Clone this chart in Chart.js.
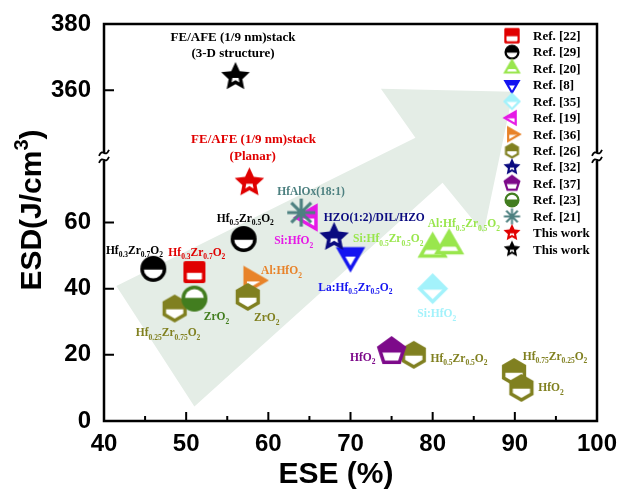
<!DOCTYPE html>
<html>
<head>
<meta charset="utf-8">
<script src="https://cdn.jsdelivr.net/npm/chart.js@4.4.1/dist/chart.umd.min.js"></script>
<style>
  html, body { margin: 0; padding: 0; background: #fff; }
  #wrap { width: 620px; height: 492px; }
</style>
</head>
<body>
<div id="wrap"><canvas id="chart"></canvas></div>
<script>
// Dades llegides de la figura: ESE (%) i ESD (J/cm3), una entrada per fila de llegenda
const seriesLabels = ['Ref. [22]', 'Ref. [29]', 'Ref. [20]', 'Ref. [8]', 'Ref. [35]', 'Ref. [19]', 'Ref. [36]',
                      'Ref. [26]', 'Ref. [32]', 'Ref. [37]', 'Ref. [23]', 'Ref. [21]', 'This work', 'This work'];
const eseValues = [[51], [46, 57], [80, 82], [70], [80], [65], [58], [48.6, 57.5, 77.7, 89.9, 90.8],
                   [68], [75], [51], [64], [57.7], [56]];
const esdValues = [[45], [46, 55], [52, 53], [50], [40], [61.5], [42.5], [34, 37.5, 20, 14.8, 10],
                   [55.5], [21], [37], [63], [72], [364]];

const xTicks = [40, 50, 60, 70, 80, 90, 100];
const yTicks = [0, 20, 40, 60, 360, 380];

// estil dels marcadors (separat de les dades)
const seriesColors = ['#e00000', '#000000', '#99e64d', '#1414f0', '#a3f2fb', '#e619e6', '#e8832a',
                      '#808020', '#0a0a80', '#7d0a8a', '#427d1f', '#4d8080', '#e00000', '#000000'];
const seriesShapes = ['square', 'circle', 'triUp', 'triDown', 'diamond', 'triLeft', 'triRight',
                      'hexagon', 'star', 'pentagon', 'circle', 'asterisk', 'star', 'star'];
const seriesRadius = [11, 13, 17.5, 17, 15.5, 16.5, 17, 14, 15.5, 15.5, 13, 14, 15.5, 15];
const seriesHollow = ['bottom', 'bottom', 'bottom', 'bottom', 'bottom', 'bottom', 'bottom',
                      'bottom', 'bottom', 'bottom', 'top', 'none', 'bottom', 'bottom'];

// eix Y trencat: de 80 a 340 no es dibuixa
const BREAK_LOW = 80, BREAK_HIGH = 340;
function toAxis(v) { return v >= BREAK_HIGH ? v - (BREAK_HIGH - BREAK_LOW) : v; }

// fletxa de fons (unitats de l'eix)
const arrowShape = [[41.5, 40.8], [51.0, 4.4], [81.2, 72.0], [86.2, 56.8], [89.8, 99.5],
                    [73.7, 100.4], [77.9, 85.6]];

// etiquetes dels punts (unitats de l'eix); _{} = subíndex
const pointNotes = [
  { text: 'FE/AFE (1/9 nm)stack', x: 55.7, y: 116.2, color: '#000000', size: 13 },
  { text: '(3-D structure)', x: 55.7, y: 111.3, color: '#000000', size: 13 },
  { text: 'FE/AFE (1/9 nm)stack', x: 58.2, y: 85.3, color: '#e00000', size: 13 },
  { text: '(Planar)', x: 58.1, y: 80.2, color: '#e00000', size: 13 },
  { text: 'HfAlOx(18:1)', x: 65.2, y: 69.5, color: '#4d8080' },
  { text: 'Hf_{0.5}Zr_{0.5}O_{2}', x: 57.2, y: 61.4, color: '#000000' },
  { text: 'Hf_{0.3}Zr_{0.7}O_{2}', x: 43.7, y: 51.7, color: '#000000' },
  { text: 'Hf_{0.3}Zr_{0.7}O_{2}', x: 51.3, y: 51.1, color: '#e00000' },
  { text: 'Si:HfO_{2}', x: 63.1, y: 54.7, color: '#e619e6' },
  { text: 'Al:HfO_{2}', x: 61.6, y: 45.6, color: '#e8832a' },
  { text: 'ZrO_{2}', x: 53.7, y: 31.7, color: '#427d1f' },
  { text: 'ZrO_{2}', x: 59.8, y: 31.4, color: '#808020' },
  { text: 'Hf_{0.25}Zr_{0.75}O_{2}', x: 47.8, y: 26.8, color: '#808020' },
  { text: 'HZO(1:2)/DIL/HZO', x: 72.9, y: 61.7, color: '#0a0a80' },
  { text: 'Si:Hf_{0.5}Zr_{0.5}O_{2}', x: 74.6, y: 55.3, color: '#99e64d' },
  { text: 'Al:Hf_{0.5}Zr_{0.5}O_{2}', x: 83.8, y: 59.8, color: '#99e64d' },
  { text: 'La:Hf_{0.5}Zr_{0.5}O_{2}', x: 70.6, y: 40.5, color: '#1414f0' },
  { text: 'Si:HfO_{2}', x: 80.5, y: 32.6, color: '#a3f2fb' },
  { text: 'HfO_{2}', x: 71.5, y: 19.5, color: '#7d0a8a' },
  { text: 'Hf_{0.5}Zr_{0.5}O_{2}', x: 83.2, y: 19.2, color: '#808020' },
  { text: 'Hf_{0.75}Zr_{0.25}O_{2}', x: 94.9, y: 19.8, color: '#808020' },
  { text: 'HfO_{2}', x: 94.4, y: 10.2, color: '#808020' }
];

const SERIF = '"Liberation Serif", "Times New Roman", serif';
const SANS = '"Liberation Sans", Arial, sans-serif';

/**
 * Camí de la forma centrat a l'origen
 */
function shapePath(g, shape, r) {
  g.beginPath();
  const poly = (n, rot, rad) => {
    for (let k = 0; k < n; k++) {
      const t = rot + k * 2 * Math.PI / n;
      if (k) g.lineTo(rad * Math.cos(t), rad * Math.sin(t));
      else g.moveTo(rad * Math.cos(t), rad * Math.sin(t));
    }
    g.closePath();
  };
  switch (shape) {
    case 'circle': g.arc(0, 0, r, 0, 2 * Math.PI); break;
    case 'square': g.roundRect(-r, -r, 2 * r, 2 * r, r * 0.18); break;
    case 'triUp': poly(3, -Math.PI / 2, r); break;
    case 'triDown': poly(3, Math.PI / 2, r); break;
    case 'triLeft': poly(3, Math.PI, r); break;
    case 'triRight': poly(3, 0, r); break;
    case 'diamond': poly(4, -Math.PI / 2, r); break;
    case 'hexagon': poly(6, -Math.PI / 2, r); break;
    case 'pentagon': poly(5, -Math.PI / 2, r); break;
    case 'star':
      for (let k = 0; k < 10; k++) {
        const t = -Math.PI / 2 + k * Math.PI / 5;
        const rad = k % 2 ? r * 0.48 : r;
        if (k) g.lineTo(rad * Math.cos(t), rad * Math.sin(t));
        else g.moveTo(rad * Math.cos(t), rad * Math.sin(t));
      }
      g.closePath();
      break;
  }
}

function insetFactor(shape, r, d) {
  const sides = { triUp: 3, triDown: 3, triLeft: 3, triRight: 3, diamond: 4, hexagon: 6, pentagon: 5 };
  if (shape === 'star') return 0.45;
  if (sides[shape]) return 1 - d / (r * Math.cos(Math.PI / sides[shape]));
  return 1 - d / r;
}

/**
 * Marcador "mig ple" com els d'Origin, en un canvas petit
 */
function makeMarker(shape, color, r, hollow, d) {
  const size = Math.ceil(2 * r + 6);
  const c = document.createElement('canvas');
  c.width = size; c.height = size;
  const g = c.getContext('2d');
  g.translate(size / 2, size / 2);
  if (shape === 'asterisk') {
    g.strokeStyle = color;
    g.lineWidth = Math.max(2, d * 0.9);
    g.beginPath();
    for (let k = 0; k < 4; k++) {
      const t = k * Math.PI / 4;
      g.moveTo(-r * Math.cos(t), -r * Math.sin(t));
      g.lineTo(r * Math.cos(t), r * Math.sin(t));
    }
    g.stroke();
    return c;
  }
  shapePath(g, shape, r);
  g.fillStyle = color;
  g.fill();
  if (hollow !== 'none') {
    g.save();
    g.beginPath();
    if (hollow === 'top') g.rect(-r - 2, -r - 2, 2 * r + 4, r + 2 - r * 0.06);
    else g.rect(-r - 2, r * 0.06, 2 * r + 4, r + 2);
    g.clip();
    const k = insetFactor(shape, r, d);
    g.scale(k, k);
    shapePath(g, shape, r);
    g.fillStyle = '#ffffff';
    g.fill();
    g.restore();
  }
  return c;
}

const plotMarkers = seriesShapes.map((s, i) =>
  makeMarker(s, seriesColors[i], seriesRadius[i], seriesHollow[i], 3.5));
const legendMarkers = seriesShapes.map((s, i) =>
  makeMarker(s, seriesColors[i], seriesRadius[i] * (s === 'square' ? 0.7 : 0.58), seriesHollow[i], 2.2));

/**
 * Text amb subíndexs _{..} i superíndexs ^{..}, centrat a (cx, cy)
 */
function drawRich(ctx, s, cx, cy, o) {
  const parts = [];
  const re = /([_^])\{([^}]*)\}|([^_^]+)/g;
  let m;
  while ((m = re.exec(s))) {
    if (m[1]) parts.push({ t: m[2], k: m[1] === '_' ? 'sub' : 'sup' });
    else parts.push({ t: m[3], k: 'n' });
  }
  const fMain = `bold ${o.size}px ${o.family}`;
  const fSmall = `bold ${o.small}px ${o.family}`;
  let w = 0;
  parts.forEach(p => {
    ctx.font = p.k === 'n' ? fMain : fSmall;
    p.w = ctx.measureText(p.t).width;
    w += p.w;
  });
  let x0 = cx - w / 2;
  const base = cy + o.size * 0.35;
  ctx.textAlign = 'left';
  ctx.textBaseline = 'alphabetic';
  ctx.fillStyle = o.color;
  parts.forEach(p => {
    ctx.font = p.k === 'n' ? fMain : fSmall;
    const dy = p.k === 'sub' ? o.size * 0.3 : (p.k === 'sup' ? -o.size * 0.42 : 0);
    ctx.fillText(p.t, x0, base + dy);
    x0 += p.w;
  });
}

// etiquetes dels punts
const notesPlugin = {
  id: 'notes',
  afterDatasetsDraw(chart) {
    const { ctx, scales: { x, y } } = chart;
    ctx.save();
    pointNotes.forEach(n => {
      const size = n.size || 11.5;
      drawRich(ctx, n.text, x.getPixelForValue(n.x), y.getPixelForValue(n.y),
               { size: size, small: 7.5, family: SERIF, color: n.color });
    });
    ctx.restore();
  }
};

// marc, ticks cap a dins, trencament de l'eix, títols i llegenda
const framePlugin = {
  id: 'frame',
  afterDraw(chart) {
    const { ctx, chartArea: a, scales: { x, y } } = chart;
    ctx.save();
    ctx.strokeStyle = '#000';
    ctx.lineWidth = 2;
    ctx.beginPath();
    for (let v = 45; v < 100; v += 5) {
      const px = x.getPixelForValue(v);
      const len = v % 10 === 0 ? 9 : 5;
      ctx.moveTo(px, a.bottom);
      ctx.lineTo(px, a.bottom - len);
    }
    yTicks.forEach(t => {
      const py = y.getPixelForValue(toAxis(t));
      ctx.moveTo(a.left, py);
      ctx.lineTo(a.left + 10, py);
    });
    ctx.stroke();
    ctx.lineWidth = 2.5;
    ctx.strokeRect(a.left, a.top, a.right - a.left, a.bottom - a.top);

    const by = y.getPixelForValue(BREAK_LOW);
    [a.left, a.right].forEach(bx => {
      ctx.fillStyle = '#fff';
      ctx.fillRect(bx - 2, by - 4, 4, 8);
      ctx.lineWidth = 1.8;
      [-3.5, 3.5].forEach(dd => {
        ctx.beginPath();
        ctx.moveTo(bx - 5, by + dd + 3);
        ctx.bezierCurveTo(bx - 1, by + dd - 6, bx + 1, by + dd + 6, bx + 5, by + dd - 3);
        ctx.stroke();
      });
    });

    // títols dels eixos
    drawRich(ctx, 'ESE (%)', a.left + 232, a.bottom + 51, { size: 30, small: 20, family: SANS, color: '#000' });
    ctx.save();
    ctx.translate(a.left - 74, a.top + 186);
    ctx.rotate(-Math.PI / 2);
    drawRich(ctx, 'ESD(J/cm^{3})', 0, 0, { size: 30, small: 20, family: SANS, color: '#000' });
    ctx.restore();

    // llegenda dins del gràfic
    const mx = a.right - 85, tx = a.right - 64;
    ctx.font = `bold 13px ${SERIF}`;
    ctx.fillStyle = '#000';
    ctx.textAlign = 'left';
    ctx.textBaseline = 'middle';
    seriesLabels.forEach((lab, i) => {
      const yy = a.top + 11.7 + i * 16.43;
      const mk = legendMarkers[i];
      ctx.drawImage(mk, mx - mk.width / 2, yy - mk.height / 2);
      ctx.fillText(lab, tx, yy + 1);
    });
    ctx.restore();
  }
};

const datasets = seriesLabels.map((label, i) => ({
  label: label,
  data: eseValues[i].map((v, j) => ({ x: v, y: toAxis(esdValues[i][j]) })),
  pointStyle: plotMarkers[i],
  pointRadius: 10,
  showLine: false,
  order: -i
}));

datasets.push({
  label: 'arrow',
  data: arrowShape.concat([arrowShape[0]]).map(p => ({ x: p[0], y: p[1] })),
  showLine: true,
  fill: 'shape',
  backgroundColor: '#e4ede6',
  borderColor: 'rgba(0,0,0,0)',
  borderWidth: 0,
  pointRadius: 0,
  tension: 0,
  order: 100
});

const ctx = document.getElementById('chart').getContext('2d');
new Chart(ctx, {
  type: 'scatter',
  data: { datasets },
  options: {
    responsive: true,
    maintainAspectRatio: false,
    animation: false,
    events: [],
    layout: { padding: { left: 0, right: 23, top: 24, bottom: 0 } },
    plugins: {
      legend: { display: false },
      tooltip: { enabled: false }
    },
    scales: {
      x: {
        type: 'linear',
        min: 40,
        max: 100,
        afterBuildTicks: (s) => { s.ticks = xTicks.map(v => ({ value: v })); },
        afterFit: (s) => { s.height = 71; s.paddingLeft = 0; s.paddingRight = 0; },
        grid: { display: false, drawTicks: false },
        border: { display: false },
        ticks: {
          autoSkip: false,
          maxRotation: 0,
          padding: 9,
          color: '#000',
          font: { family: SANS, size: 24, weight: 'bold' }
        }
      },
      y: {
        type: 'linear',
        min: 0,
        max: 120,
        afterBuildTicks: (s) => { s.ticks = yTicks.map(v => ({ value: toAxis(v) })); },
        afterFit: (s) => { s.width = 104; s.paddingTop = 0; s.paddingBottom = 0; },
        grid: { display: false, drawTicks: false },
        border: { display: false },
        ticks: {
          autoSkip: false,
          padding: 13,
          color: '#000',
          font: { family: SANS, size: 24, weight: 'bold' },
          callback: (value, index) => String(yTicks[index])
        }
      }
    }
  },
  plugins: [notesPlugin, framePlugin]
});
</script>
</body>
</html>
